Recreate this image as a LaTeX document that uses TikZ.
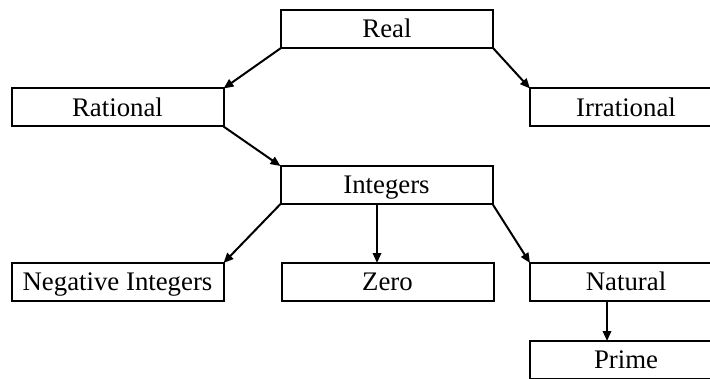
\documentclass[tikz,border=0pt]{standalone}
\usepackage{fontspec}
\setmainfont{Liberation Serif}
\usetikzlibrary{arrows.meta}
\begin{document}
\begin{tikzpicture}[x=0.5pt,y=-0.5pt,
  box/.style={draw, line width=1pt, rectangle, minimum height=19pt, inner sep=0pt, outer sep=0pt, text height=8.87pt, text depth=0pt, font=\fontsize{13.4}{15}\selectfont},
  wide/.style={minimum width=106pt},
  narrow/.style={minimum width=96pt},
  conn/.style={line width=1pt, -{Triangle[length=5pt,width=4.2pt]}}]
\useasboundingbox (0,0) rectangle (710,379);
\clip (0,0) rectangle (710,379);
\node[box,wide] (real) at (387,29) {Real};
\node[box,wide] (rational) at (117.5,107.5) {Rational};
\node[box,narrow] (irrational) at (626,107.5) {Irrational};
\node[box,wide] (integers) at (386.5,185) {Integers};
\node[box,wide] (neg) at (117.5,282) {Negative Integers};
\node[box,wide] (zero) at (387.5,282) {Zero};
\node[box,narrow] (natural) at (626,282) {Natural};
\node[box,narrow] (prime) at (626,360) {Prime};
\draw[conn] (real.south west) -- (rational.north east);
\draw[conn] (real.south east) -- (irrational.north west);
\draw[conn] (rational.south east) -- (integers.north west);
\draw[conn] (integers.south west) -- (neg.north east);
\draw[conn] ([xshift=-4.75pt]integers.south) -- ([xshift=-5.25pt]zero.north);
\draw[conn] (integers.south east) -- (natural.north west);
\draw[conn] ([xshift=-9.5pt]natural.south) -- ([xshift=-9.5pt]prime.north);
\end{tikzpicture}
\end{document}
